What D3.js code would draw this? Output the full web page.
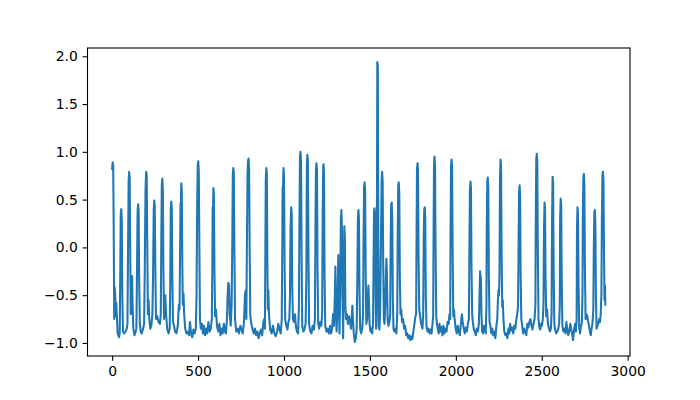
<!DOCTYPE html>
<html><head><meta charset="utf-8">
<script src="https://cdn.jsdelivr.net/npm/d3@7"></script>
<style>body{margin:0;background:#fff}svg{display:block}text{font-family:"DejaVu Sans",sans-serif}</style>
</head><body><svg id="c" width="700" height="400"></svg>
<script>
const xTicks = [0, 500, 1000, 1500, 2000, 2500, 3000];
const yTicks = [-1.0, -0.5, 0.0, 0.5, 1.0, 1.5, 2.0];
// [sample index, value]
const signal = [
[0,0.82],[3,0.89],[6,0.86],[9,0.2],[12,-0.75],[15,-0.42],[18,-0.5],[21,-0.72],[24,-0.58],[28,-0.75],[32,-0.9],[36,-0.92],[40,-0.94],
[44,-0.9],[47,-0.3],[50,0.35],[53,0.40],[56,0.3],[59,-0.5],[63,-0.88],[70,-0.9],[78,-0.88],[85,-0.85],
[89,-0.8],[93,0.1],[96,0.7],[99,0.79],[102,0.72],[105,0.0],[108,-0.7],[112,-0.55],[116,-0.3],[119,-0.6],[123,-0.85],[130,-0.92],[137,-0.88],
[141,-0.85],[145,-0.2],[148,0.38],[151,0.45],[154,0.4],[157,-0.3],[161,-0.8],[166,-0.88],[172,-0.9],[180,-0.85],[186,-0.8],
[190,-0.2],[194,0.6],[198,0.79],[201,0.75],[204,0.1],[208,-0.7],[212,-0.55],[216,-0.75],[222,-0.85],[228,-0.82],[234,-0.7],
[238,-0.3],[242,0.4],[245,0.49],[248,0.42],[251,-0.2],[255,-0.75],[262,-0.72],[270,-0.78],[278,-0.8],[283,-0.7],
[286,0.1],[289,0.66],[292,0.72],[295,0.6],[298,-0.2],[302,-0.75],[309,-0.5],[314,-0.7],[320,-0.85],[328,-0.9],[335,-0.85],
[338,-0.4],[341,0.4],[344,0.48],[347,0.4],[350,-0.3],[354,-0.78],[360,-0.82],[366,-0.88],[374,-0.9],[382,-0.82],[388,-0.6],[392,-0.65],
[395,-0.1],[398,0.46],[400,0.42],[402,0.67],[405,0.6],[408,-0.1],[411,-0.6],[415,-0.48],[419,-0.7],[425,-0.85],[432,-0.9],[440,-0.88],[447,-0.92],[453,-0.78],[459,-0.9],[466,-0.94],[473,-0.86],[480,-0.9],[487,-0.85],
[491,-0.5],[495,0.5],[498,0.85],[501,0.90],[504,0.8],[507,0.1],[511,-0.75],[516,-0.85],[522,-0.8],[528,-0.9],[534,-0.82],[540,-0.92],[547,-0.85],[553,-0.9],[560,-0.78],[567,-0.88],[574,-0.85],[580,-0.75],
[583,-0.2],[585,0.42],[587,0.35],[589,0.62],[592,0.55],[595,-0.2],[599,-0.72],[604,-0.65],[610,-0.82],[617,-0.88],[624,-0.8],[630,-0.92],[637,-0.85],[643,-0.9],[650,-0.8],[656,-0.88],[662,-0.9],[668,-0.75],[672,-0.5],[676,-0.37],[680,-0.4],[684,-0.7],[690,-0.82],[695,-0.6],
[699,0.0],[702,0.75],[705,0.83],[708,0.78],[711,0.0],[715,-0.75],[722,-0.88],[730,-0.85],[738,-0.9],[746,-0.82],[753,-0.86],[760,-0.9],[767,-0.78],[773,-0.5],[777,-0.45],[781,-0.75],
[784,0.0],[788,0.8],[791,0.91],[794,0.93],[797,0.8],[800,0.0],[804,-0.72],[810,-0.8],[817,-0.86],[824,-0.9],[831,-0.85],[838,-0.92],[845,-0.88],[852,-0.95],[859,-0.9],[866,-0.86],[873,-0.92],[880,-0.78],[885,-0.75],[889,-0.85],
[891,-0.2],[894,0.7],[897,0.83],[900,0.78],[903,-0.1],[906,-0.65],[909,-0.45],[913,-0.72],[920,-0.86],[928,-0.9],[936,-0.82],[944,-0.9],[952,-0.93],[960,-0.88],[967,-0.8],[974,-0.86],[981,-0.9],[987,-0.75],
[990,0.0],[992,0.63],[994,0.6],[997,0.83],[1000,0.75],[1003,-0.1],[1007,-0.75],[1013,-0.82],[1020,-0.86],[1026,-0.78],[1031,-0.75],[1035,-0.5],
[1038,0.2],[1042,0.42],[1045,0.35],[1048,-0.4],[1052,-0.75],[1058,-0.78],[1064,-0.7],[1069,-0.82],[1075,-0.88],[1082,-0.9],[1087,-0.6],
[1090,0.3],[1093,0.95],[1096,1.0],[1099,0.9],[1102,0.0],[1106,-0.82],[1113,-0.88],[1120,-0.85],[1126,-0.8],[1130,-0.3],
[1133,0.85],[1136,0.97],[1139,0.9],[1142,0.0],[1146,-0.8],[1153,-0.88],[1160,-0.9],[1167,-0.82],[1174,-0.86],[1180,-0.75],
[1183,0.2],[1186,0.82],[1189,0.88],[1192,0.8],[1195,-0.2],[1199,-0.8],[1205,-0.85],[1211,-0.78],[1217,-0.82],[1222,-0.7],
[1225,0.3],[1228,0.85],[1230,0.87],[1233,0.75],[1236,-0.3],[1240,-0.82],[1247,-0.88],[1254,-0.85],[1261,-0.9],[1268,-0.82],[1274,-0.9],[1280,-0.85],[1286,-0.7],[1291,-0.82],
[1296,-0.5],[1299,-0.2],[1302,-0.6],[1306,-0.88],[1310,-0.7],[1314,-0.3],[1316,-0.08],[1319,-0.5],[1323,-0.9],[1327,-0.5],[1331,0.3],[1334,0.39],[1337,0.2],[1340,-0.4],[1344,-0.95],[1348,-0.3],[1351,0.22],[1354,0.1],[1357,-0.6],[1361,-0.75],[1366,-0.7],[1372,-0.8],[1378,-0.72],[1384,-0.78],[1390,-0.85],[1395,-0.7],[1398,-0.61],[1401,-0.75],[1406,-0.9],[1412,-0.99],[1418,-0.95],[1423,-0.85],
[1427,-0.3],[1430,0.3],[1433,0.39],[1436,0.3],[1439,-0.4],[1443,-0.85],[1449,-0.9],[1455,-0.85],[1460,-0.7],
[1463,0.1],[1466,0.62],[1469,0.68],[1472,0.6],[1475,-0.2],[1479,-0.8],[1484,-0.75],[1488,-0.5],[1491,-0.4],[1494,-0.55],[1498,-0.8],[1503,-0.88],[1508,-0.85],[1513,-0.9],[1518,-0.8],
[1521,-0.2],[1524,0.38],[1527,0.41],[1530,0.3],[1533,-0.5],[1536,-0.85],[1539,-0.6],
[1541,0.5],[1543,1.94],[1546,1.9],[1548,0.6],[1551,-0.82],[1555,-0.86],[1559,-0.7],
[1564,0.0],[1568,0.7],[1571,0.79],[1574,0.7],[1577,-0.1],[1581,-0.75],[1585,-0.8],[1589,-0.6],[1593,-0.3],[1596,-0.12],[1599,-0.3],[1603,-0.75],[1608,-0.82],[1613,-0.78],[1618,-0.7],
[1621,0.1],[1624,0.45],[1627,0.47],[1630,0.3],[1633,-0.5],[1637,-0.85],[1642,-0.88],[1648,-0.85],[1654,-0.9],[1659,-0.7],
[1662,0.2],[1665,0.65],[1668,0.68],[1671,0.55],[1674,-0.3],[1678,-0.7],[1682,-0.65],[1687,-0.78],[1693,-0.75],[1699,-0.85],[1705,-0.82],[1711,-0.92],[1717,-0.9],[1723,-0.95],[1729,-0.92],[1735,-0.97],[1741,-0.93],[1747,-0.96],[1753,-0.88],[1759,-0.8],[1765,-0.72],[1769,-0.7],
[1771,0.0],[1774,0.82],[1777,0.88],[1780,0.8],[1783,-0.1],[1787,-0.65],[1791,-0.7],[1796,-0.78],[1801,-0.82],[1806,-0.85],[1810,-0.7],
[1813,0.1],[1816,0.4],[1819,0.42],[1822,0.3],[1825,-0.5],[1829,-0.82],[1835,-0.88],[1841,-0.85],[1847,-0.9],[1853,-0.86],[1859,-0.9],[1864,-0.8],[1868,-0.72],
[1870,0.0],[1873,0.85],[1876,0.95],[1879,0.85],[1882,0.0],[1886,-0.72],[1890,-0.8],[1895,-0.85],[1900,-0.9],[1905,-0.8],[1910,-0.88],[1916,-0.83],[1922,-0.92],[1928,-0.82],[1934,-0.9],[1940,-0.85],[1946,-0.88],[1952,-0.78],[1958,-0.8],[1963,-0.7],[1967,-0.75],
[1969,0.1],[1972,0.85],[1975,0.92],[1978,0.85],[1981,0.0],[1985,-0.72],[1989,-0.65],[1993,-0.75],[1999,-0.85],[2005,-0.9],[2011,-0.82],[2017,-0.88],[2023,-0.92],[2029,-0.8],[2035,-0.7],[2040,-0.78],[2046,-0.85],[2052,-0.9],[2058,-0.84],[2064,-0.88],[2070,-0.8],[2076,-0.75],
[2079,0.0],[2082,0.6],[2085,0.69],[2088,0.62],[2091,-0.2],[2095,-0.7],[2099,-0.78],[2104,-0.85],[2110,-0.88],[2116,-0.92],[2122,-0.85],[2128,-0.88],[2134,-0.8],[2138,-0.5],
[2141,-0.25],[2144,-0.3],[2146,-0.33],[2149,-0.7],[2153,-0.88],[2158,-0.9],[2163,-0.82],[2168,-0.85],[2174,-0.9],[2178,-0.6],
[2180,0.2],[2183,0.7],[2186,0.73],[2189,0.6],[2192,-0.3],[2196,-0.78],[2201,-0.82],[2206,-0.9],[2212,-0.85],[2218,-0.92],[2224,-0.88],[2230,-0.95],[2236,-0.82],[2241,-0.75],[2245,-0.55],[2248,-0.45],[2251,-0.5],[2254,-0.3],
[2257,0.7],[2260,0.92],[2263,0.85],[2266,0.0],[2270,-0.62],[2273,-0.55],[2277,-0.75],[2282,-0.88],[2288,-0.92],[2294,-0.9],[2300,-0.95],[2306,-0.85],[2311,-0.9],[2316,-0.8],[2322,-0.87],[2328,-0.84],[2334,-0.9],[2340,-0.82],[2346,-0.85],[2352,-0.75],[2357,-0.7],[2362,-0.62],
[2365,0.0],[2368,0.58],[2371,0.65],[2374,0.55],[2377,-0.3],[2381,-0.75],[2386,-0.82],[2392,-0.9],[2398,-0.85],[2404,-0.88],[2410,-0.92],[2416,-0.8],[2422,-0.84],[2428,-0.78],[2434,-0.75],[2440,-0.82],[2446,-0.86],[2452,-0.8],[2458,-0.75],[2463,-0.6],
[2465,0.2],[2468,0.92],[2471,0.98],[2474,0.88],[2477,0.0],[2481,-0.75],[2486,-0.84],[2491,-0.86],[2496,-0.8],[2501,-0.82],[2506,-0.75],[2510,-0.6],
[2513,0.2],[2516,0.47],[2519,0.4],[2522,-0.3],[2526,-0.72],[2531,-0.65],[2536,-0.8],[2542,-0.85],[2548,-0.88],[2553,-0.85],[2557,-0.7],
[2560,0.3],[2563,0.74],[2566,0.68],[2569,-0.2],[2573,-0.8],[2578,-0.86],[2584,-0.9],[2590,-0.88],[2596,-0.85],[2601,-0.8],[2605,-0.6],
[2607,0.3],[2610,0.51],[2613,0.45],[2616,-0.3],[2620,-0.82],[2626,-0.88],[2632,-0.85],[2638,-0.9],[2643,-0.78],[2648,-0.85],[2654,-0.92],[2660,-0.88],[2666,-0.8],[2671,-0.85],[2676,-0.9],[2682,-0.97],[2688,-0.86],[2694,-0.8],[2699,-0.88],[2703,-0.75],
[2705,0.2],[2708,0.42],[2711,0.35],[2714,-0.4],[2718,-0.85],[2723,-0.9],[2728,-0.82],[2733,-0.8],[2737,-0.5],
[2739,0.3],[2742,0.72],[2745,0.77],[2748,0.65],[2751,-0.2],[2755,-0.75],[2760,-0.7],[2765,-0.72],[2770,-0.78],[2775,-0.82],[2780,-0.88],[2785,-0.92],[2790,-0.85],[2795,-0.8],[2800,-0.65],
[2803,0.0],[2806,0.37],[2809,0.39],[2812,0.25],[2815,-0.5],[2819,-0.85],[2824,-0.82],[2829,-0.8],[2834,-0.75],[2839,-0.78],[2843,-0.7],[2847,-0.5],
[2850,0.3],[2853,0.75],[2856,0.79],[2859,0.7],[2862,0.0],[2865,-0.55],[2868,-0.4],[2870,-0.6]
];

const W = 700, H = 400;
const m = {left: 87.5, right: 630, top: 48, bottom: 356};
const svg = d3.select("#c");
const xExt = d3.extent(signal, d => d[0]);
const yExt = d3.extent(signal, d => d[1]);
const xPad = (xExt[1] - xExt[0]) * 0.05, yPad = (yExt[1] - yExt[0]) * 0.05;
const x = d3.scaleLinear().domain([xExt[0] - xPad, xExt[1] + xPad]).range([m.left, m.right]);
const y = d3.scaleLinear().domain([yExt[0] - yPad, yExt[1] + yPad]).range([m.bottom, m.top]);

const line = d3.line().x(d => x(d[0])).y(d => y(d[1]));
svg.append("defs").append("clipPath").attr("id","clip").append("rect")
  .attr("x", m.left).attr("y", m.top).attr("width", m.right - m.left).attr("height", m.bottom - m.top);
svg.append("path").datum(signal).attr("d", line).attr("clip-path","url(#clip)")
  .attr("fill","none").attr("stroke","#1f77b4").attr("stroke-width",2.08)
  .attr("stroke-linejoin","round").attr("stroke-linecap","square");

const fmtY = d3.format(".1f");
const xAxis = d3.axisBottom(x).tickValues(xTicks).tickFormat(d3.format("d")).tickSizeOuter(0).tickSize(4.86).tickPadding(4.86);
const yAxis = d3.axisLeft(y).tickValues(yTicks).tickFormat(fmtY).tickSizeOuter(0).tickSize(4.86).tickPadding(4.86);
const gx = svg.append("g").attr("transform", `translate(0,${m.bottom})`).call(xAxis);
const gy = svg.append("g").attr("transform", `translate(${m.left},0)`).call(yAxis);
[gx, gy].forEach(g => {
  g.select(".domain").remove();
  g.selectAll(".tick line").attr("stroke","#000").attr("stroke-width",1.1);
  g.selectAll(".tick text").attr("fill","#000").style("font-size","13.9px").style("font-family","'DejaVu Sans', sans-serif");
});
svg.append("rect").attr("x", m.left).attr("y", m.top).attr("width", m.right - m.left).attr("height", m.bottom - m.top)
  .attr("fill","none").attr("stroke","#000").attr("stroke-width",1.1);
</script></body></html>
